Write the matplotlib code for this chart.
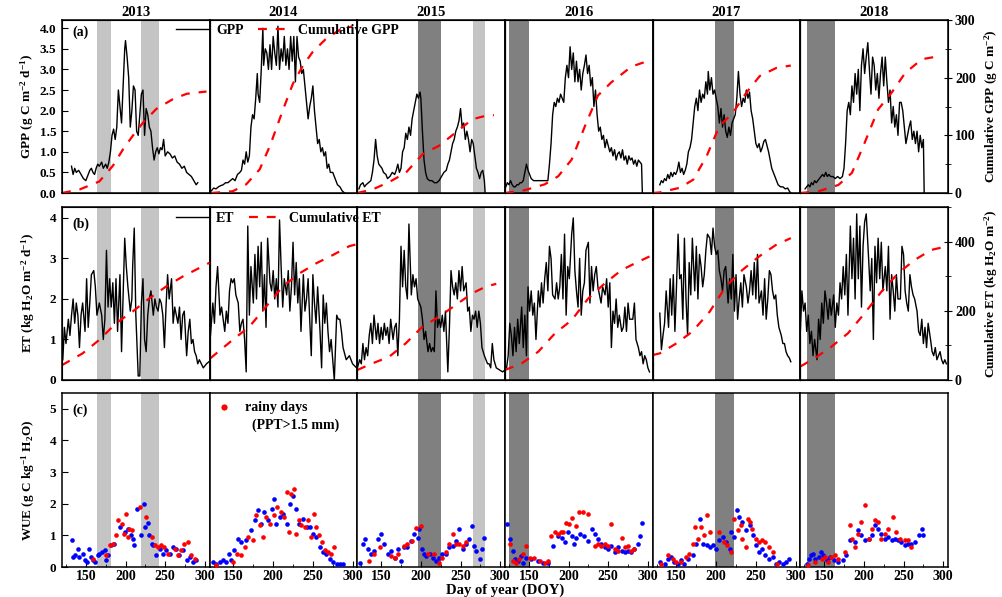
import matplotlib.pyplot as plt
from matplotlib.lines import Line2D
from matplotlib.ticker import MultipleLocator, FormatStrFormatter

plt.rcParams["font.family"] = "Liberation Serif"
plt.rcParams["font.weight"] = "bold"
plt.rcParams["axes.labelweight"] = "bold"
plt.rcParams["axes.titleweight"] = "bold"
plt.rcParams["mathtext.fontset"] = "custom"
plt.rcParams["mathtext.rm"] = "Liberation Serif:bold"
plt.rcParams["mathtext.it"] = "Liberation Serif:bold"
plt.rcParams["mathtext.bf"] = "Liberation Serif:bold"

years = [2013, 2014, 2015, 2016, 2017, 2018]

# Daily GPP (g C m-2 d-1) as (DOY, value)
gpp_2013 = [(132, 0.65), (134, 0.45), (136, 0.6), (138, 0.5), (141, 0.55), (144, 0.45), (147, 0.35),
            (150, 0.3), (152, 0.4), (155, 0.55), (157, 0.6), (159, 0.5), (161, 0.45), (163, 0.6),
            (165, 0.7), (167, 0.65), (170, 0.75), (172, 0.6), (175, 0.7), (177, 0.6), (179, 0.75),
            (181, 1.0), (183, 1.4), (185, 1.55), (187, 1.3), (189, 1.6), (191, 2.5), (193, 2.1),
            (195, 1.7), (197, 2.6), (199, 3.5), (200, 3.7), (202, 3.3), (204, 2.8), (206, 1.6),
            (208, 2.0), (210, 2.6), (212, 2.5), (214, 1.5), (216, 1.4), (218, 1.9), (220, 2.4),
            (222, 2.5), (224, 1.4), (226, 2.05), (228, 1.9), (230, 1.6), (232, 1.5), (234, 1.1),
            (236, 0.8), (238, 1.0), (240, 1.1), (242, 0.95), (244, 1.1), (246, 1.05), (248, 1.3),
            (250, 0.9), (253, 1.0), (256, 0.95), (259, 0.85), (262, 0.9), (265, 0.75), (268, 0.7),
            (271, 0.6), (274, 0.65), (277, 0.5), (280, 0.45), (283, 0.4), (286, 0.3), (289, 0.2),
            (291, 0.25)]
gpp_2014 = [(122, 0.05), (125, 0.12), (128, 0.1), (131, 0.15), (134, 0.18), (137, 0.2), (140, 0.25),
            (143, 0.25), (146, 0.3), (149, 0.35), (152, 0.3), (155, 0.45), (158, 0.5), (160, 0.55),
            (162, 0.8), (164, 0.7), (166, 1.0), (168, 0.75), (170, 0.9), (172, 1.6), (174, 1.9),
            (176, 1.8), (178, 2.3), (180, 2.9), (181, 2.4), (183, 2.2), (185, 3.0), (187, 4.0),
            (188, 3.1), (190, 3.5), (192, 3.4), (194, 3.0), (196, 3.6), (198, 3.0), (200, 3.8),
            (202, 3.4), (204, 3.1), (206, 4.05), (208, 3.0), (210, 3.5), (212, 3.2), (214, 3.8),
            (216, 3.1), (218, 3.5), (220, 3.0), (222, 3.8), (224, 3.2), (226, 3.8), (228, 2.7),
            (230, 3.8), (232, 3.3), (234, 3.2), (236, 2.9), (238, 3.0), (240, 2.6), (242, 2.2),
            (244, 1.8), (246, 2.1), (248, 2.3), (250, 2.6), (252, 2.0), (254, 1.6), (256, 1.2),
            (258, 1.3), (260, 1.0), (262, 1.1), (264, 0.9), (266, 1.0), (268, 0.6), (270, 0.7),
            (272, 0.5), (275, 0.5), (278, 0.35), (281, 0.2), (284, 0.15), (287, 0.05), (290, 0.0)]
gpp_2015 = [(122, 0.1), (124, 0.2), (127, 0.25), (129, 0.15), (131, 0.2), (134, 0.25), (137, 0.3),
            (139, 0.5), (141, 0.8), (143, 1.3), (145, 0.9), (147, 0.7), (149, 0.65), (151, 0.6),
            (153, 0.5), (156, 0.45), (158, 0.35), (161, 0.4), (164, 0.5), (167, 0.45), (169, 0.55),
            (171, 0.7), (173, 0.5), (175, 0.6), (177, 1.0), (179, 1.1), (181, 1.45), (183, 1.3),
            (185, 1.6), (187, 1.4), (189, 1.8), (191, 2.0), (193, 2.2), (195, 2.4), (197, 2.3),
            (199, 2.45), (200, 2.3), (202, 1.5), (204, 0.8), (206, 0.5), (208, 0.35), (211, 0.3),
            (214, 0.3), (217, 0.25), (220, 0.25), (223, 0.3), (226, 0.4), (229, 0.5), (232, 0.55),
            (234, 0.7), (236, 0.8), (238, 1.0), (240, 1.2), (242, 1.3), (244, 1.5), (246, 1.6),
            (248, 1.75), (250, 2.05), (252, 1.6), (254, 1.7), (256, 1.3), (258, 1.5), (260, 1.3),
            (262, 1.0), (264, 1.3), (266, 1.2), (268, 0.9), (270, 0.6), (272, 0.5), (274, 0.35),
            (276, 0.5), (278, 0.55), (280, 0.3), (281, 0.0)]
gpp_2016 = [(121, 0.15), (123, 0.25), (125, 0.2), (127, 0.3), (129, 0.2), (131, 0.15), (133, 0.15),
            (135, 0.2), (137, 0.2), (139, 0.25), (141, 0.25), (143, 0.3), (145, 0.5), (147, 0.7),
            (149, 0.55), (151, 0.45), (153, 0.35), (156, 0.3), (160, 0.3), (165, 0.3), (170, 0.3),
            (174, 0.3), (176, 0.7), (178, 1.2), (180, 1.9), (182, 2.2), (184, 2.1), (186, 2.3),
            (188, 2.2), (190, 2.4), (192, 2.3), (194, 2.2), (196, 2.8), (198, 3.1), (200, 2.8),
            (202, 3.55), (204, 3.0), (206, 3.4), (208, 2.7), (210, 3.2), (212, 2.7), (214, 3.0),
            (216, 2.5), (218, 2.9), (220, 3.1), (222, 3.35), (224, 2.9), (226, 3.1), (228, 2.6),
            (230, 2.8), (232, 2.1), (234, 2.5), (236, 1.9), (238, 1.5), (240, 1.6), (242, 1.3),
            (244, 1.4), (246, 1.1), (248, 1.3), (250, 1.15), (252, 1.0), (254, 1.1), (256, 0.9),
            (258, 1.05), (260, 0.8), (262, 0.95), (264, 1.0), (266, 0.85), (268, 1.05), (270, 0.8),
            (272, 0.9), (274, 0.7), (276, 0.9), (278, 0.8), (280, 0.85), (282, 0.7), (284, 0.8),
            (286, 0.65), (288, 0.8), (290, 0.75), (292, 0.7), (293, 0.0)]
gpp_2017 = [(129, 0.2), (131, 0.3), (133, 0.25), (135, 0.35), (137, 0.3), (139, 0.45), (141, 0.35),
            (143, 0.5), (145, 0.4), (147, 0.5), (149, 0.45), (151, 0.55), (153, 0.75), (155, 0.5),
            (157, 0.6), (159, 0.45), (161, 0.55), (163, 0.7), (165, 1.0), (167, 1.1), (169, 1.3),
            (171, 1.7), (173, 2.1), (175, 2.3), (177, 2.0), (179, 2.5), (181, 2.2), (183, 2.4),
            (185, 2.3), (187, 2.7), (189, 2.4), (190, 2.95), (192, 2.5), (194, 2.8), (196, 2.4),
            (198, 2.5), (200, 2.3), (202, 2.1), (204, 1.7), (206, 2.05), (208, 1.6), (210, 1.9),
            (212, 1.5), (214, 1.35), (216, 1.6), (218, 1.4), (220, 1.7), (222, 1.8), (224, 1.9),
            (226, 2.3), (228, 2.95), (230, 2.4), (232, 2.1), (234, 2.3), (236, 2.2), (238, 2.5),
            (240, 2.3), (242, 2.45), (244, 2.0), (246, 1.8), (248, 1.5), (250, 1.2), (252, 1.1),
            (254, 1.2), (256, 1.0), (258, 1.1), (260, 1.25), (262, 1.3), (264, 1.15), (266, 1.0),
            (268, 0.8), (270, 0.6), (272, 0.5), (274, 0.4), (276, 0.3), (278, 0.2), (281, 0.15),
            (284, 0.15), (287, 0.1), (290, 0.12), (292, 0.05), (294, 0.0)]
gpp_2018 = [(126, 0.1), (128, 0.15), (130, 0.2), (132, 0.15), (134, 0.25), (136, 0.2), (138, 0.3),
            (140, 0.25), (142, 0.3), (144, 0.35), (146, 0.4), (148, 0.45), (150, 0.4), (152, 0.5),
            (154, 0.4), (156, 0.45), (158, 0.4), (161, 0.4), (164, 0.35), (167, 0.4), (170, 0.35),
            (173, 0.4), (175, 0.6), (177, 1.2), (179, 2.0), (181, 2.2), (183, 1.9), (185, 2.6),
            (187, 2.2), (189, 2.9), (191, 2.4), (193, 3.0), (195, 2.0), (197, 3.1), (199, 3.5),
            (201, 2.9), (203, 3.3), (205, 3.65), (207, 3.0), (209, 2.4), (211, 3.3), (213, 3.1),
            (215, 2.5), (217, 2.9), (219, 2.3), (221, 2.9), (223, 3.3), (225, 2.6), (227, 3.3),
            (229, 2.7), (231, 2.2), (233, 2.5), (235, 1.7), (237, 2.1), (239, 1.6), (241, 1.9),
            (243, 1.4), (245, 2.2), (247, 2.2), (249, 2.0), (251, 1.6), (253, 1.2), (255, 1.4),
            (257, 1.6), (259, 1.75), (261, 1.3), (263, 1.5), (265, 1.2), (267, 1.5), (269, 1.0),
            (271, 1.4), (273, 1.1), (275, 1.3), (276, 0.0)]

# Cumulative GPP (g C m-2)
cum_gpp_2013 = [(120, 0), (142, 6), (167, 20), (184, 47), (197, 76), (209, 99), (222, 122),
                (239, 146), (260, 163), (277, 172), (302, 176)]
cum_gpp_2014 = [(122, 0), (149, 3), (166, 15), (183, 41), (196, 82), (212, 143), (225, 190),
                (238, 222), (250, 245), (267, 268), (284, 283), (300, 289)]
cum_gpp_2015 = [(120, 0), (139, 6), (160, 19), (181, 35), (202, 67), (223, 82), (244, 105),
                (265, 128), (282, 134), (292, 135)]
cum_gpp_2016 = [(120, 0), (145, 5), (170, 15), (187, 29), (204, 58), (221, 117), (237, 169),
                (254, 192), (279, 219), (302, 230)]
cum_gpp_2017 = [(120, 0), (129, 1), (154, 9), (171, 23), (188, 64), (204, 116), (221, 139),
                (238, 174), (255, 203), (276, 217), (294, 221)]
cum_gpp_2018 = [(120, 0), (143, 3), (168, 14), (185, 35), (201, 87), (218, 145), (235, 174),
                (252, 208), (273, 232), (294, 237)]

# Daily ET (kg H2O m-2 d-1)
et_2013 = [(121, 0.5), (123, 1.3), (125, 0.9), (128, 1.5), (130, 1.1), (132, 1.6), (134, 2.0),
           (136, 1.4), (138, 1.9), (140, 1.6), (142, 0.8), (144, 1.6), (146, 1.9), (149, 1.2),
           (151, 2.5), (153, 1.3), (155, 1.9), (157, 2.6), (160, 2.7), (162, 2.3), (164, 1.6),
           (167, 1.9), (170, 1.6), (172, 1.0), (174, 1.5), (176, 3.2), (178, 1.8), (180, 2.5),
           (182, 1.8), (184, 2.4), (186, 1.4), (188, 2.5), (190, 1.2), (193, 2.6), (195, 0.7),
           (197, 2.1), (199, 3.5), (201, 2.8), (203, 2.3), (206, 1.7), (208, 2.0), (209, 2.8),
           (211, 3.75), (213, 1.6), (216, 0.1), (218, 0.1), (220, 1.9), (222, 2.5), (224, 1.0),
           (226, 0.7), (228, 1.6), (230, 2.0), (232, 2.2), (235, 1.6), (237, 2.0), (239, 1.8),
           (241, 1.7), (243, 2.0), (245, 1.9), (247, 1.6), (249, 0.8), (251, 1.8), (253, 2.6),
           (255, 2.0), (258, 2.5), (260, 1.4), (262, 1.8), (264, 1.6), (266, 1.4), (268, 1.8),
           (270, 1.0), (272, 1.6), (274, 1.7), (277, 0.6), (279, 1.2), (281, 1.5), (283, 0.9),
           (285, 1.0), (287, 0.7), (289, 0.6), (291, 0.4), (293, 0.5), (298, 0.3), (302, 0.4),
           (305, 0.45)]
et_2014 = [(121, 1.1), (124, 1.9), (126, 1.4), (128, 2.3), (130, 2.8), (133, 1.6), (135, 1.8),
           (137, 1.5), (139, 1.2), (141, 1.7), (143, 1.4), (145, 2.2), (147, 2.5), (149, 2.4),
           (151, 2.5), (153, 2.1), (156, 1.9), (158, 1.2), (160, 1.4), (162, 1.5), (164, 1.0),
           (166, 0.2), (168, 3.8), (170, 1.6), (172, 2.8), (175, 1.9), (177, 3.1), (179, 2.0),
           (181, 3.3), (183, 2.3), (185, 3.4), (187, 1.7), (189, 2.6), (191, 1.3), (193, 3.5),
           (196, 2.4), (198, 2.2), (200, 2.7), (202, 2.0), (204, 2.5), (206, 1.8), (208, 3.95),
           (210, 2.8), (212, 1.8), (214, 2.5), (217, 2.1), (219, 2.7), (221, 1.7), (223, 2.3),
           (225, 3.4), (227, 2.1), (229, 2.9), (231, 1.9), (233, 2.5), (235, 1.2), (238, 2.6),
           (240, 1.7), (242, 2.0), (244, 2.5), (246, 1.5), (248, 0.6), (250, 2.6), (252, 1.9),
           (254, 1.4), (256, 2.3), (259, 1.2), (261, 0.3), (263, 2.1), (265, 1.4), (267, 1.9),
           (269, 1.2), (271, 0.7), (273, 1.0), (277, 0.0), (280, 1.6), (282, 1.5), (284, 1.5),
           (286, 1.2), (288, 0.8), (292, 0.5), (296, 0.6), (300, 0.4), (305, 0.3)]
et_2015 = [(120, 0.3), (123, 0.5), (125, 0.4), (127, 0.9), (129, 0.5), (131, 0.8), (133, 0.6),
           (135, 1.1), (137, 1.4), (139, 0.9), (141, 1.6), (144, 1.0), (146, 1.4), (148, 0.9),
           (150, 1.3), (152, 1.0), (154, 1.4), (156, 1.1), (158, 1.3), (160, 0.9), (162, 1.5),
           (165, 1.0), (167, 1.3), (169, 1.4), (171, 0.6), (173, 1.5), (175, 3.3), (177, 2.3),
           (179, 3.2), (181, 2.3), (183, 2.0), (185, 3.85), (188, 2.1), (190, 2.6), (192, 2.3),
           (194, 2.5), (196, 2.0), (198, 1.9), (200, 1.8), (202, 1.5), (204, 1.0), (206, 1.2),
           (209, 0.7), (211, 0.9), (213, 0.7), (215, 0.8), (217, 0.7), (219, 2.2), (221, 1.3),
           (223, 1.5), (225, 1.3), (227, 1.6), (229, 1.2), (231, 1.7), (234, 0.2), (236, 1.3),
           (238, 2.7), (240, 2.3), (242, 2.1), (244, 2.4), (246, 2.0), (248, 2.7), (250, 2.2),
           (252, 2.8), (254, 2.2), (257, 2.4), (259, 1.7), (261, 1.8), (263, 1.2), (265, 1.6),
           (267, 1.5), (269, 1.7), (271, 1.3), (273, 1.7), (275, 1.4), (277, 0.8), (280, 0.6),
           (282, 0.5), (284, 0.4), (286, 0.4), (288, 0.3), (290, 0.9), (292, 0.5), (295, 0.3),
           (299, 0.25), (303, 0.2), (306, 0.25)]
et_2016 = [(122, 0.3), (124, 0.6), (126, 1.4), (128, 1.1), (130, 0.6), (132, 1.3), (134, 0.7),
           (136, 1.5), (138, 0.9), (141, 1.8), (143, 0.8), (145, 1.6), (147, 0.6), (149, 2.3),
           (151, 1.7), (153, 2.2), (155, 1.6), (157, 1.9), (159, 1.0), (162, 2.2), (164, 1.8),
           (166, 2.4), (168, 1.9), (170, 2.5), (172, 2.9), (174, 2.2), (176, 3.3), (178, 3.0),
           (180, 2.1), (183, 2.0), (185, 2.4), (187, 2.0), (189, 2.3), (191, 3.1), (193, 2.0),
           (195, 3.6), (197, 1.6), (199, 2.8), (201, 2.5), (204, 3.6), (206, 4.0), (208, 2.7),
           (210, 2.2), (212, 1.8), (214, 3.0), (216, 1.6), (218, 2.2), (220, 2.4), (222, 3.2),
           (225, 3.4), (227, 1.9), (229, 2.8), (231, 2.2), (233, 2.6), (235, 2.8), (237, 2.3),
           (239, 2.1), (241, 1.9), (243, 2.3), (246, 2.1), (248, 2.5), (250, 1.8), (252, 2.4),
           (254, 0.8), (256, 1.7), (258, 1.4), (260, 2.0), (262, 1.3), (264, 1.6), (267, 1.2),
           (269, 1.3), (271, 1.8), (273, 1.2), (275, 1.9), (277, 1.5), (279, 1.5), (281, 1.5),
           (283, 1.9), (285, 1.0), (288, 0.8), (290, 0.6), (292, 0.7), (294, 0.4), (296, 0.6),
           (298, 0.5), (300, 0.3), (302, 0.2)]
et_2017 = [(129, 1.65), (131, 0.75), (133, 1.1), (135, 1.4), (137, 2.2), (140, 1.3), (142, 2.5),
           (144, 1.6), (146, 2.6), (148, 1.2), (150, 2.3), (152, 3.6), (154, 2.5), (156, 2.6),
           (158, 1.5), (160, 3.5), (162, 2.0), (164, 1.1), (166, 2.9), (168, 2.1), (170, 3.5),
           (173, 2.2), (175, 3.3), (177, 2.0), (179, 3.1), (181, 2.8), (183, 2.3), (185, 2.6),
           (187, 3.2), (189, 3.6), (192, 3.5), (194, 3.1), (196, 3.75), (198, 3.3), (200, 3.1),
           (202, 3.2), (204, 2.7), (206, 2.5), (208, 2.2), (210, 2.7), (212, 2.8), (215, 1.9),
           (217, 2.5), (219, 2.0), (221, 3.1), (223, 1.7), (225, 2.6), (227, 1.5), (229, 2.0),
           (231, 2.4), (233, 1.8), (235, 2.6), (238, 2.3), (240, 1.9), (242, 2.2), (244, 2.7),
           (246, 2.1), (248, 2.9), (250, 2.0), (252, 3.1), (254, 1.9), (257, 2.2), (259, 1.6),
           (261, 2.5), (263, 1.5), (265, 2.0), (267, 2.7), (269, 2.6), (271, 2.2), (273, 2.0),
           (275, 2.1), (277, 1.6), (279, 1.3), (282, 1.1), (284, 0.9), (286, 0.9), (288, 0.7),
           (290, 0.6), (292, 0.55), (294, 0.45)]
et_2018 = [(120, 1.2), (122, 2.2), (124, 1.7), (126, 1.9), (128, 1.2), (130, 1.6), (132, 0.9),
           (134, 1.2), (136, 0.6), (138, 1.0), (141, 0.5), (143, 1.5), (145, 1.0), (147, 1.9),
           (149, 1.4), (151, 2.2), (153, 1.9), (155, 1.5), (157, 2.0), (159, 1.6), (162, 2.1),
           (164, 1.3), (166, 1.9), (168, 1.6), (170, 2.4), (172, 2.0), (174, 2.8), (176, 2.1),
           (178, 3.1), (180, 1.6), (183, 3.8), (185, 2.5), (187, 3.5), (189, 2.0), (191, 4.1),
           (193, 2.5), (195, 3.8), (197, 1.8), (199, 3.3), (201, 3.9), (203, 4.1), (206, 3.0),
           (208, 2.2), (210, 3.0), (212, 1.0), (214, 3.3), (216, 2.4), (218, 3.5), (220, 2.5),
           (222, 3.4), (224, 2.2), (227, 2.8), (229, 2.2), (231, 3.3), (233, 1.5), (235, 2.6),
           (237, 2.2), (239, 1.7), (241, 2.6), (243, 2.0), (246, 2.0), (248, 3.3), (250, 3.1),
           (252, 2.2), (254, 1.9), (256, 1.7), (258, 2.6), (260, 2.3), (262, 2.1), (264, 2.0),
           (267, 1.7), (269, 1.2), (271, 1.1), (273, 1.5), (275, 0.9), (277, 1.3), (279, 0.8),
           (281, 1.4), (284, 1.0), (286, 0.7), (288, 0.6), (290, 0.8), (292, 0.5), (294, 0.6),
           (296, 0.7), (298, 0.5), (300, 0.4), (302, 0.5), (304, 0.4)]

# Cumulative ET (kg H2O m-2)
cum_et_2013 = [(120, 43), (146, 77), (167, 116), (188, 164), (209, 198), (230, 236), (251, 270),
               (272, 299), (306, 339)]
cum_et_2014 = [(121, 63), (149, 116), (170, 154), (191, 212), (212, 270), (233, 308), (254, 337),
               (275, 361), (296, 387), (305, 392)]
cum_et_2015 = [(120, 29), (139, 48), (160, 67), (181, 106), (202, 154), (223, 183), (244, 217),
               (265, 251), (282, 270), (295, 278)]
cum_et_2016 = [(120, 29), (141, 48), (162, 82), (183, 135), (204, 173), (225, 236), (246, 280),
               (267, 318), (288, 342), (302, 357)]
cum_et_2017 = [(120, 72), (129, 77), (150, 106), (170, 140), (192, 198), (212, 270), (233, 318),
               (254, 357), (275, 390), (294, 410)]
cum_et_2018 = [(120, 39), (138, 63), (159, 96), (180, 135), (201, 193), (222, 255), (243, 308),
               (264, 347), (285, 376), (304, 386)]

# Daily WUE (g C kg-1 H2O), dry days and rainy days (PPT > 1.5 mm)
wue_dry_2013 = [(132, 0.84), (134, 0.32), (137, 0.37), (140, 0.58), (142, 0.32), (146, 0.42),
                (149, 0.21), (151, 0.16), (154, 0.58), (156, 0.32), (159, 0.21), (162, 0.16),
                (165, 0.37), (167, 0.42), (171, 0.47), (174, 0.53), (176, 0.21), (178, 0.37),
                (182, 0.68), (186, 0.74), (193, 1.26), (199, 1.1), (203, 1.21), (207, 1.0),
                (209, 0.9), (211, 0.68), (214, 1.84), (220, 1.0), (223, 2.0), (225, 1.26),
                (228, 1.39), (230, 1.0), (233, 0.74), (235, 0.68), (239, 0.37), (243, 0.58),
                (247, 0.42), (251, 0.53), (256, 0.42), (260, 0.63), (264, 0.58), (268, 0.37),
                (272, 0.53), (277, 0.21), (281, 0.32), (285, 0.16), (289, 0.21)]
wue_rain_2013 = [(159, 0.26), (175, 0.37), (180, 0.68), (184, 0.74), (188, 1.0), (190, 1.47),
                 (195, 1.37), (198, 1.05), (200, 1.68), (203, 0.95), (205, 1.21), (208, 1.16),
                 (218, 1.9), (226, 1.58), (233, 0.95), (237, 0.68), (241, 0.63), (245, 0.68),
                 (249, 0.63), (253, 0.42), (262, 0.58), (266, 0.37), (270, 0.53), (274, 0.74),
                 (279, 0.79), (283, 0.37), (287, 0.26)]
wue_dry_2014 = [(124, 0.16), (128, 0.1), (133, 0.16), (137, 0.21), (141, 0.16), (144, 0.42),
                (147, 0.21), (151, 0.53), (156, 0.9), (160, 0.79), (166, 0.84), (172, 1.16),
                (177, 1.47), (181, 1.79), (185, 1.37), (189, 1.74), (193, 1.47), (198, 1.84),
                (201, 2.16), (204, 1.37), (208, 1.58), (212, 1.68), (217, 1.37), (221, 2.0),
                (225, 2.26), (229, 1.84), (233, 1.37), (238, 1.53), (242, 1.26), (246, 1.26),
                (250, 1.05), (254, 0.95), (259, 0.63), (263, 0.47), (267, 0.42), (271, 0.26),
                (275, 0.16), (280, 0.1), (284, 0.1), (288, 0.1)]
wue_rain_2014 = [(128, 0.05), (149, 0.16), (154, 0.42), (160, 0.37), (164, 0.63), (168, 0.95),
                 (175, 0.84), (178, 1.63), (183, 1.32), (187, 0.95), (191, 1.58), (196, 1.37),
                 (201, 1.63), (205, 1.9), (210, 1.74), (214, 1.58), (217, 2.37), (220, 1.1),
                 (223, 2.32), (226, 2.47), (229, 1.05), (233, 1.47), (235, 1.32), (240, 1.26),
                 (244, 1.47), (248, 0.95), (252, 1.68), (254, 1.26), (258, 1.0), (261, 0.79),
                 (265, 0.53), (269, 0.47), (273, 0.42), (277, 0.63)]
wue_dry_2015 = [(123, 0.14), (127, 0.72), (130, 0.88), (133, 0.56), (137, 0.4), (141, 0.5),
                (146, 0.88), (150, 1.04), (154, 0.72), (158, 0.4), (162, 0.5), (167, 0.3),
                (171, 0.56), (175, 0.19), (179, 0.62), (183, 0.62), (188, 0.83), (192, 1.04),
                (196, 0.93), (198, 1.2), (201, 0.56), (204, 0.4), (207, 0.35), (211, 0.4),
                (215, 0.3), (219, 0.19), (223, 0.3), (227, 0.4), (232, 0.4), (236, 0.62),
                (240, 0.67), (244, 0.83), (248, 1.2), (253, 0.56), (257, 0.72), (261, 0.88),
                (264, 1.3), (267, 0.67), (270, 0.5), (274, 0.24), (277, 0.56), (280, 0.93)]
wue_rain_2015 = [(135, 0.19), (141, 0.4), (148, 0.62), (162, 0.35), (167, 0.3), (171, 0.4),
                 (179, 0.67), (183, 0.72), (189, 0.83), (194, 1.24), (200, 1.3), (209, 0.4),
                 (217, 0.4), (223, 0.14), (227, 0.3), (232, 0.46), (236, 0.72), (240, 1.04),
                 (244, 0.72), (248, 0.72), (253, 0.67), (257, 0.78)]
wue_dry_2016 = [(123, 1.35), (126, 0.88), (130, 0.5), (133, 0.24), (136, 0.19), (140, 0.35),
                (143, 0.14), (147, 0.3), (153, 0.24), (162, 0.19), (168, 0.14), (174, 0.14),
                (180, 0.67), (187, 0.98), (192, 0.93), (195, 0.78), (199, 1.1), (204, 0.98),
                (207, 0.72), (210, 0.93), (214, 1.04), (220, 0.98), (225, 0.83), (229, 1.2),
                (233, 1.04), (237, 0.88), (241, 0.72), (246, 0.62), (250, 0.56), (254, 0.67),
                (258, 0.46), (262, 0.62), (267, 0.5), (271, 0.46), (275, 0.5), (279, 0.46),
                (283, 0.56), (288, 0.72), (290, 0.98), (292, 1.4)]
wue_rain_2016 = [(126, 0.72), (130, 0.19), (134, 0.14), (138, 0.24), (143, 0.4), (147, 0.67),
                 (151, 0.3), (157, 0.3), (164, 0.19), (170, 0.14), (174, 0.19), (178, 0.98),
                 (183, 1.1), (187, 1.04), (190, 1.1), (193, 1.1), (197, 1.4), (201, 1.35),
                 (204, 1.56), (209, 1.3), (213, 1.73), (218, 1.73), (225, 1.67), (233, 0.67),
                 (237, 0.72), (241, 0.67), (246, 0.72), (250, 0.67), (254, 1.35), (258, 0.56),
                 (262, 0.5), (267, 0.93), (271, 0.62), (275, 0.67), (279, 0.5), (283, 0.56)]
wue_dry_2017 = [(129, 0.16), (135, 0.1), (139, 0.26), (143, 0.32), (147, 0.16), (152, 0.1),
                (156, 0.21), (160, 0.1), (164, 0.26), (171, 0.37), (175, 0.74), (179, 1.53),
                (183, 0.74), (188, 0.68), (192, 0.63), (196, 0.68), (200, 0.58), (204, 0.84),
                (208, 0.95), (212, 0.79), (217, 0.58), (219, 1.1), (223, 0.95), (226, 1.79),
                (229, 1.58), (233, 1.42), (238, 1.16), (242, 1.32), (246, 1.0), (250, 0.68),
                (254, 0.47), (258, 0.58), (262, 0.37), (267, 0.26), (271, 0.32), (275, 0.1),
                (279, 0.16), (284, 0.1), (288, 0.16), (292, 0.26)]
wue_rain_2017 = [(131, 0.1), (139, 0.37), (145, 0.26), (150, 0.16), (156, 0.16), (162, 0.32),
                 (166, 0.42), (171, 0.74), (173, 1.26), (177, 0.89), (181, 1.26), (185, 1.0),
                 (188, 1.65), (192, 1.1), (204, 1.1), (210, 0.79), (214, 0.68), (219, 0.47),
                 (223, 1.53), (227, 1.16), (231, 1.32), (233, 0.89), (237, 0.63), (240, 1.53),
                 (243, 1.42), (245, 1.21), (250, 0.89), (254, 0.79), (258, 0.84), (262, 0.79),
                 (267, 0.63), (271, 0.47), (277, 0.1)]
wue_dry_2018 = [(128, 0.1), (131, 0.26), (133, 0.37), (136, 0.42), (139, 0.26), (143, 0.32),
                (146, 0.47), (149, 0.37), (153, 0.21), (157, 0.32), (162, 0.21), (168, 0.16),
                (174, 0.21), (178, 0.37), (183, 0.84), (189, 0.79), (193, 1.16), (197, 1.0),
                (201, 0.84), (206, 0.89), (210, 1.0), (214, 1.32), (218, 1.21), (222, 1.05),
                (227, 0.89), (231, 0.95), (235, 0.84), (239, 0.89), (243, 0.84), (247, 0.79),
                (252, 0.68), (256, 0.74), (260, 0.74), (264, 0.79), (269, 1.0), (273, 1.21),
                (275, 1.0)]
wue_rain_2018 = [(130, 0.05), (138, 0.16), (147, 0.26), (151, 0.32), (155, 0.16), (159, 0.32),
                 (164, 0.37), (168, 0.26), (176, 0.47), (182, 1.32), (185, 0.89), (189, 0.63),
                 (193, 1.05), (197, 1.42), (201, 1.95), (206, 0.89), (210, 1.21), (214, 1.47),
                 (218, 1.42), (222, 0.89), (227, 1.05), (231, 1.21), (237, 1.58), (241, 1.1),
                 (245, 0.89), (252, 0.84), (256, 0.84), (259, 0.63)]

# Shaded periods (DOY start, end)
light_periods = {2013: [(164, 182), (220, 242)], 2015: [(266, 281)]}
dark_periods = {2015: [(197, 226)], 2016: [(125, 150)], 2017: [(198, 223)], 2018: [(129, 164)]}

gpp_series = [gpp_2013, gpp_2014, gpp_2015, gpp_2016, gpp_2017, gpp_2018]
cum_gpp_series = [cum_gpp_2013, cum_gpp_2014, cum_gpp_2015, cum_gpp_2016, cum_gpp_2017, cum_gpp_2018]
et_series = [et_2013, et_2014, et_2015, et_2016, et_2017, et_2018]
cum_et_series = [cum_et_2013, cum_et_2014, cum_et_2015, cum_et_2016, cum_et_2017, cum_et_2018]
wue_dry_series = [wue_dry_2013, wue_dry_2014, wue_dry_2015, wue_dry_2016, wue_dry_2017, wue_dry_2018]
wue_rain_series = [wue_rain_2013, wue_rain_2014, wue_rain_2015, wue_rain_2016, wue_rain_2017,
                   wue_rain_2018]

RED = "#ff0000"
BLUE = "#0000ff"
LIGHT = "#c4c4c4"
DARK = "#808080"
XLIM = (120, 306)
YTICK_SIZE = 9.5
XTICK_SIZE = 10
LABEL_SIZE = 9.5


def xy(pairs):
    return [p[0] for p in pairs], [p[1] for p in pairs]


def shade(ax, year):
    for start, end in light_periods.get(year, []):
        ax.axvspan(start, end, color=LIGHT, lw=0, zorder=0)
    for start, end in dark_periods.get(year, []):
        ax.axvspan(start, end, color=DARK, lw=0, zorder=0)


fig = plt.figure(figsize=(10.02, 5.97), dpi=100)

W, H = 1002.0, 597.0
left0 = 62 / W
col_w = (948 - 62) / 6 / W
row_boxes = [(1 - 193 / H, 173 / H), (1 - 380 / H, 173 / H), (1 - 567 / H, 174 / H)]

axes = [[fig.add_axes([left0 + i * col_w, b, col_w, h]) for i in range(6)] for b, h in row_boxes]

for i, year in enumerate(years):
    ax_a, ax_b, ax_c = axes[0][i], axes[1][i], axes[2][i]
    for ax in (ax_a, ax_b, ax_c):
        shade(ax, year)
        ax.set_xlim(*XLIM)
        for sp in ax.spines.values():
            sp.set_linewidth(1.1)

    # (a) GPP and cumulative GPP
    ax_a.plot(*xy(gpp_series[i]), color="black", lw=1.0)
    ax_a.set_ylim(0, 4.2)
    tw_a = ax_a.twinx()
    tw_a.plot(*xy(cum_gpp_series[i]), color=RED, lw=1.6, dashes=(4, 4))
    tw_a.set_ylim(0, 300)
    tw_a.set_xlim(*XLIM)

    # (b) ET and cumulative ET
    ax_b.plot(*xy(et_series[i]), color="black", lw=1.0)
    ax_b.set_ylim(0, 4.27)
    tw_b = ax_b.twinx()
    tw_b.plot(*xy(cum_et_series[i]), color=RED, lw=1.6, dashes=(4, 4))
    tw_b.set_ylim(0, 500)
    tw_b.set_xlim(*XLIM)

    # (c) WUE scatter
    ax_c.scatter(*xy(wue_dry_series[i]), s=11, color=BLUE, lw=0, zorder=3)
    ax_c.scatter(*xy(wue_rain_series[i]), s=11, color=RED, lw=0, zorder=3)
    ax_c.set_ylim(0, 5.5)

    ax_a.set_title(str(year), fontsize=10.5, pad=3)

    for ax in (ax_a, ax_b):
        ax.tick_params(axis="x", which="both", bottom=False, labelbottom=False)
    ax_c.xaxis.set_major_locator(MultipleLocator(50))
    ax_c.xaxis.set_minor_locator(MultipleLocator(25))
    ax_c.tick_params(axis="x", which="major", direction="in", length=4, labelsize=XTICK_SIZE, pad=2)
    ax_c.tick_params(axis="x", which="minor", direction="in", length=2)

    for tw in (tw_a, tw_b):
        if i < 5:
            tw.tick_params(axis="y", which="both", right=False, labelright=False)
        else:
            tw.tick_params(axis="y", which="major", direction="inout", length=6,
                           labelsize=XTICK_SIZE, pad=2)
            tw.tick_params(axis="y", which="minor", direction="inout", length=4)

    if i > 0:
        for ax in (ax_a, ax_b, ax_c):
            ax.tick_params(axis="y", which="both", left=False, labelleft=False)
    else:
        for ax in (ax_a, ax_b, ax_c):
            ax.tick_params(axis="y", direction="in", length=4, labelsize=YTICK_SIZE, pad=4)
        ax_a.yaxis.set_major_locator(MultipleLocator(0.5))
        ax_a.yaxis.set_major_formatter(FormatStrFormatter("%.1f"))
        ax_b.yaxis.set_major_locator(MultipleLocator(1))
        ax_c.yaxis.set_major_locator(MultipleLocator(1))
        ax_a.set_ylabel(r"GPP (g C m$^{-2}$ d$^{-1}$)", fontsize=LABEL_SIZE, labelpad=3)
        ax_b.set_ylabel(r"ET (kg H$_2$O m$^{-2}$ d$^{-1}$)", fontsize=LABEL_SIZE, labelpad=9)
        ax_c.set_ylabel(r"WUE (g C kg$^{-1}$ H$_2$O)", fontsize=LABEL_SIZE, labelpad=9)
        ax_a.text(0.07, 0.93, "(a)", transform=ax_a.transAxes, fontsize=10, va="center")
        ax_b.text(0.07, 0.9, "(b)", transform=ax_b.transAxes, fontsize=10, va="center")
        ax_c.text(0.07, 0.9, "(c)", transform=ax_c.transAxes, fontsize=10, va="center")

    if i == 5:
        tw_a.yaxis.set_major_locator(MultipleLocator(100))
        tw_a.yaxis.set_minor_locator(MultipleLocator(50))
        tw_b.yaxis.set_major_locator(MultipleLocator(200))
        tw_b.yaxis.set_minor_locator(MultipleLocator(100))
        tw_a.set_ylabel(r"Cumulative GPP (g C m$^{-2}$)", fontsize=LABEL_SIZE, labelpad=5)
        tw_b.set_ylabel(r"Cumulative ET (kg H$_2$O m$^{-2}$)", fontsize=LABEL_SIZE, labelpad=5)

fig.text(505 / W, 1 - 590 / H, "Day of year (DOY)", ha="center", va="center", fontsize=10.5)

# Legends spanning the first panels of rows (a) and (b)
for name, y_px in (("GPP", 30), ("ET", 218)):
    handles = [Line2D([], [], color="black", lw=1.0),
               Line2D([], [], color=RED, lw=1.6, dashes=(4, 4))]
    fig.legend(handles, [name, "Cumulative " + name], loc="center left",
               bbox_to_anchor=(176 / W, 1 - y_px / H), ncol=2, frameon=False,
               fontsize=10, handlelength=2.4, handletextpad=0.5, columnspacing=1.0,
               borderaxespad=0, borderpad=0)

rain_handle = Line2D([], [], ls="none", marker="o", markersize=4.5, color=RED, markeredgewidth=0)
axes[2][1].legend([rain_handle], ["rainy days"], loc="center left",
                  bbox_to_anchor=(0.05, 1 - (408 - 393) / 174), frameon=False, fontsize=10,
                  handlelength=1.0, handletextpad=1.0, borderaxespad=0, borderpad=0)
axes[2][1].text(0.29, 1 - (425 - 393) / 174, "(PPT>1.5 mm)", transform=axes[2][1].transAxes,
                fontsize=10, va="center")

fig.savefig("out.png", dpi=100)
